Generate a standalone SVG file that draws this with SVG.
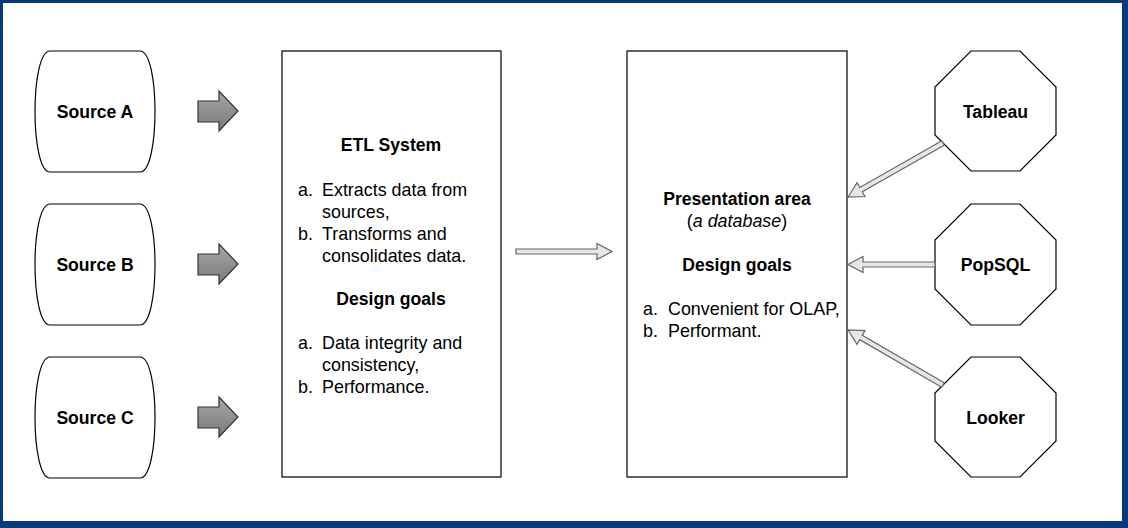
<svg xmlns="http://www.w3.org/2000/svg" width="1128" height="528" viewBox="0 0 1128 528">
<defs>
<linearGradient id="fat" x1="0" y1="0" x2="0" y2="1">
<stop offset="0" stop-color="#a6a6a6"/>
<stop offset="1" stop-color="#7a7a7a"/>
</linearGradient>
<style>
.t{font-family:"Liberation Sans",Arial,Helvetica,sans-serif;font-size:17.9px;fill:#000}
.b{font-weight:bold;font-size:17.6px}
.c{text-anchor:middle}
.shape{fill:#fff;stroke:#000;stroke-width:1.2}
.fat{fill:url(#fat);stroke:#333;stroke-width:1.2}
.conn{fill:#e6e6e6;stroke:#666;stroke-width:1.2;stroke-linejoin:miter}
</style>
</defs>
<rect x="0" y="0" width="1128" height="528" fill="#053b7c"/>
<rect x="3" y="3" width="1119" height="518" fill="#fff"/>

<g id="sourceA">
<path class="shape" d="M50,51 L140,51 C160,51 160,172 140,172 L50,172 C30,172 30,51 50,51 Z"/>
<text class="t b c" x="95" y="118">Source A</text>
</g>
<g id="sourceB">
<path class="shape" d="M50,204 L140,204 C160,204 160,325 140,325 L50,325 C30,325 30,204 50,204 Z"/>
<text class="t b c" x="95" y="271">Source B</text>
</g>
<g id="sourceC">
<path class="shape" d="M50,357 L140,357 C160,357 160,478 140,478 L50,478 C30,478 30,357 50,357 Z"/>
<text class="t b c" x="95" y="424">Source C</text>
</g>

<g id="arrowA"><polygon class="fat" points="198,101 219,101 219,91 238,111 219,131 219,122 198,122"/></g>
<g id="arrowB"><polygon class="fat" points="198,254 219,254 219,244 238,264 219,284 219,275 198,275"/></g>
<g id="arrowC"><polygon class="fat" points="198,407 219,407 219,397 238,417 219,437 219,428 198,428"/></g>

<g id="etl">
<rect class="shape" x="282" y="51" width="219" height="426"/>
<text class="t b c" x="391" y="151">ETL System</text>
<text class="t" x="298" y="196">a.</text><text class="t" x="322" y="196">Extracts data from</text>
<text class="t" x="322" y="218">sources,</text>
<text class="t" x="298" y="240">b.</text><text class="t" x="322" y="240">Transforms and</text>
<text class="t" x="322" y="262">consolidates data.</text>
<text class="t b c" x="391" y="305">Design goals</text>
<text class="t" x="298" y="349">a.</text><text class="t" x="322" y="349">Data integrity and</text>
<text class="t" x="322" y="371">consistency,</text>
<text class="t" x="298" y="393">b.</text><text class="t" x="322" y="393">Performance.</text>
</g>

<g id="presentation">
<rect class="shape" x="627" y="51" width="220" height="426"/>
<text class="t b c" x="737" y="205">Presentation area</text>
<text class="t c" x="737" y="227">(<tspan font-style="italic">a database</tspan>)</text>
<text class="t b c" x="737" y="271">Design goals</text>
<text class="t" x="643" y="315">a.</text><text class="t" x="668" y="315">Convenient for OLAP,</text>
<text class="t" x="643" y="337">b.</text><text class="t" x="668" y="337">Performant.</text>
</g>

<g id="tableau">
<polygon class="shape" points="971,51 1020,51 1056,87 1056,135 1020,171 971,171 935,135 935,87"/>
<text class="t b c" x="995.5" y="118">Tableau</text>
</g>
<g id="popsql">
<polygon class="shape" points="971,204 1020,204 1056,240 1056,289 1020,325 971,325 935,289 935,240"/>
<text class="t b c" x="995.5" y="271">PopSQL</text>
</g>
<g id="looker">
<polygon class="shape" points="971,357 1020,357 1056,393 1056,441 1020,477 971,477 935,441 935,393"/>
<text class="t b c" x="995.5" y="424">Looker</text>
</g>

<g id="connectors">
<polygon class="conn" points="516,249 597,249 597,243.5 612,251.5 597,259.5 597,254 516,254"/>
<polygon class="conn" points="944.2,145.2 862.3,191.8 865,196.5 848,197 857.1,182.6 859.8,187.4 941.8,140.8"/>
<polygon class="conn" points="935,262 863,262 863,256.5 848,264.5 863,272.5 863,267 935,267"/>
<polygon class="conn" points="944.25,382.84 862.23,335.35 864.99,330.59 848,330 856.97,344.43 859.73,339.67 941.75,387.16"/>
</g>
</svg>
